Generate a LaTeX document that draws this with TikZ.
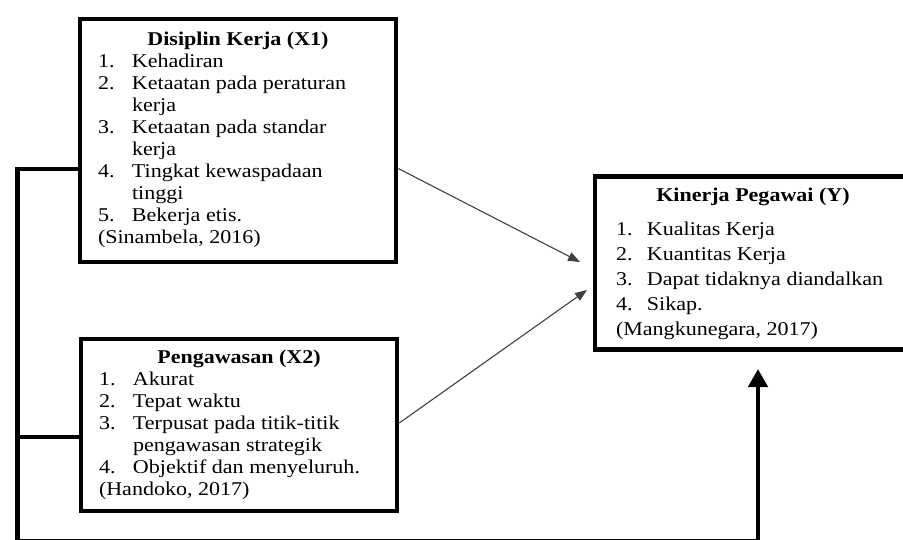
\documentclass[tikz,border=0pt]{standalone}
\usepackage{fontspec}
\setmainfont{Liberation Serif}[FakeStretch=1.13]
\usepackage{array}
\usetikzlibrary{arrows.meta}

\begin{document}
\begin{tikzpicture}[x=1pt,y=-1pt,
    kotak/.style={draw,line width=4.5pt,inner sep=0pt,minimum width=316pt,
      font=\fontsize{19.5}{22}\selectfont},
    garis/.style={line width=4.5pt},
    panah/.style={line width=1.1pt,draw=black!75,
      -{Triangle[width=9pt,length=12pt]}}]
    \useasboundingbox (0,0) rectangle (903,539);
    \node[kotak,minimum height=243pt] (x1) at (238,140.5) {%
      \begin{tabular}{@{}p{34pt}@{}p{246pt}@{}}
        \multicolumn{2}{@{}c@{}}{\textbf{Disiplin Kerja (X1)}}\\
        1. & Kehadiran\\
        2. & Ketaatan pada peraturan\\
           & kerja\\
        3. & Ketaatan pada standar\\
           & kerja\\
        4. & Tingkat kewaspadaan\\
           & tinggi\\
        5. & Bekerja etis.\\
        \multicolumn{2}{@{}l@{}}{(Sinambela, 2016)}
      \end{tabular}};
    \node[kotak,minimum height=172pt] (x2) at (239,425) {%
      \begin{tabular}{@{}p{34pt}@{}p{246pt}@{}}
        \multicolumn{2}{@{}c@{}}{\textbf{Pengawasan (X2)}}\\
        1. & Akurat\\
        2. & Tepat waktu\\
        3. & Terpusat pada titik-titik\\
           & pengawasan strategik\\
        4. & Objektif dan menyeluruh.\\
        \multicolumn{2}{@{}l@{}}{(Handoko, 2017)}
      \end{tabular}};
    \node[kotak,minimum height=173pt,font=\fontsize{19.5}{25}\selectfont] (y) at (753,263) {%
      \begin{tabular}{@{}p{31pt}@{}p{243pt}@{}}
        \multicolumn{2}{@{}c@{}}{\textbf{Kinerja Pegawai (Y)}}\\[9pt]
        1. & Kualitas Kerja\\
        2. & Kuantitas Kerja\\
        3. & Dapat tidaknya diandalkan\\
        4. & Sikap.\\
        \multicolumn{2}{@{}l@{}}{(Mangkunegara, 2017)}
      \end{tabular}};
    \coordinate (ya) at (580,262);
    \coordinate (yb) at (587,290);
    \coordinate (pojok) at (17.5,541.7);
    \coordinate (ytip) at (758,369);
    \coordinate (x2in) at ([yshift=-12pt]x2.west);
    \draw[panah] ([yshift=-28pt]x1.east) -- (ya);
    \draw[panah] ([yshift=2pt]x2.east) -- (yb);
    \draw[garis,-{Triangle[width=19pt,length=18pt]}] ([yshift=-28.5pt]x1.west) -| (pojok) -| (ytip);
    \draw[garis] (x2in) -- (x2in -| pojok);
\end{tikzpicture}
\end{document}
